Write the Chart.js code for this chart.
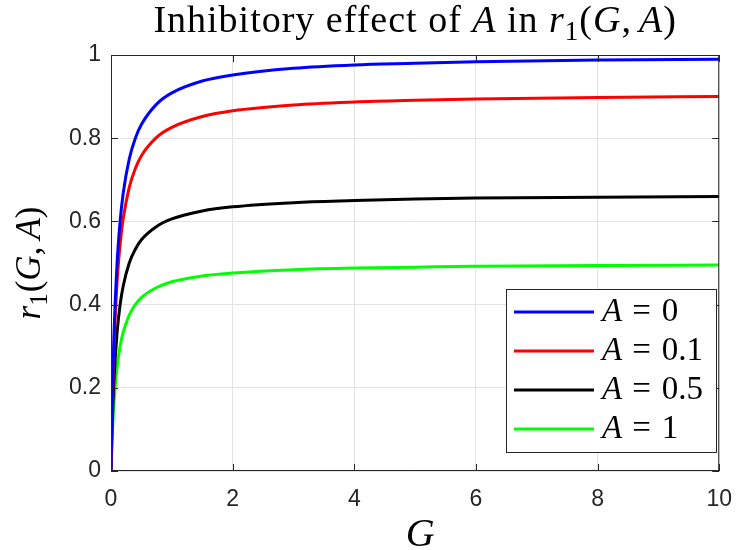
<!DOCTYPE html>
<html lang="en">
<head>
  <meta charset="UTF-8">
  <title>Inhibitory effect of A in r1(G, A)</title>
  <script src="https://cdn.jsdelivr.net/npm/chart.js"></script>
  <style>
    body {
      margin: 0;
      padding: 0;
      background: #fff;
    }

    .chart-wrapper {
      width: 747px;
      height: 550px;
    }
  </style>
</head>
<body>
  <div class="chart-wrapper"><canvas id="r1Chart" width="747" height="550"></canvas></div>

  <script>
    // Values
    const gValues = [0, 0.02, 0.05, 0.1, 0.15, 0.2, 0.3, 0.4, 0.5, 0.75, 1, 1.5, 2, 3, 4, 5, 6, 8, 10];
    const rA0   = [0, 0.167, 0.333, 0.5, 0.6, 0.667, 0.75, 0.8, 0.833, 0.882, 0.909, 0.9375, 0.952, 0.968, 0.976, 0.980, 0.984, 0.988, 0.990];
    const rA01  = [0, 0.152, 0.303, 0.455, 0.545, 0.606, 0.682, 0.727, 0.758, 0.802, 0.826, 0.852, 0.866, 0.880, 0.887, 0.891, 0.894, 0.898, 0.900];
    const rA05  = [0, 0.111, 0.222, 0.333, 0.4, 0.444, 0.5, 0.533, 0.556, 0.588, 0.606, 0.625, 0.635, 0.645, 0.650, 0.654, 0.656, 0.658, 0.660];
    const rA1   = [0, 0.083, 0.167, 0.25, 0.3, 0.333, 0.375, 0.4, 0.417, 0.441, 0.455, 0.469, 0.476, 0.484, 0.488, 0.490, 0.492, 0.494, 0.495];
    const aLabels = ["0", "0.1", "0.5", "1"];
    const seriesValues = [rA0, rA01, rA05, rA1];
    const colors = ["#0000ff", "#ff0000", "#000000", "#00ff00"];

    const xTicks = [0, 2, 4, 6, 8, 10];
    const yTicks = [0, 0.2, 0.4, 0.6, 0.8, 1];

    const SERIF = '"Liberation Serif", "Times New Roman", serif';
    const SANS = '"Liberation Sans", Arial, sans-serif';
    const AXIS_COLOR = "#262626";

    function fontOf(run, size) {
      const s = run.sub ? Math.round(size * 0.7) : size;
      return (run.i ? "italic " : "") + s + "px " + SERIF;
    }

    // draws a row of mixed upright / italic / subscript text; {gap: n} adds space
    function drawRuns(ctx, runs, x, y, size, align) {
      let total = 0;
      runs.forEach(r => {
        if (r.gap) { r.w = r.gap; } else {
          ctx.font = fontOf(r, size);
          r.w = ctx.measureText(r.t).width;
        }
        total += r.w;
      });
      let cx = align === "left" ? x : x - total / 2;
      ctx.textAlign = "left";
      ctx.textBaseline = "alphabetic";
      runs.forEach(r => {
        if (!r.gap) {
          ctx.font = fontOf(r, size);
          ctx.fillText(r.t, cx, y + (r.sub ? size * 0.2 : 0));
        }
        cx += r.w;
      });
    }

    const decorPlugin = {
      id: "decor",
      afterDraw(chart) {
        const ctx = chart.ctx;
        const area = chart.chartArea;
        const xs = chart.scales.x, ys = chart.scales.y;
        ctx.save();

        // box + inward ticks
        ctx.strokeStyle = AXIS_COLOR;
        ctx.lineWidth = 1;
        ctx.strokeRect(area.left + 0.5, area.top + 0.5, area.right - area.left - 1, area.bottom - area.top - 1);
        const tl = 7;
        ctx.beginPath();
        xTicks.forEach(v => {
          const px = Math.round(xs.getPixelForValue(v)) + 0.5;
          ctx.moveTo(px, area.bottom); ctx.lineTo(px, area.bottom - tl);
          ctx.moveTo(px, area.top); ctx.lineTo(px, area.top + tl);
        });
        yTicks.forEach(v => {
          const py = Math.round(ys.getPixelForValue(v)) + 0.5;
          ctx.moveTo(area.left, py); ctx.lineTo(area.left + tl, py);
          ctx.moveTo(area.right, py); ctx.lineTo(area.right - tl, py);
        });
        ctx.stroke();

        // title
        ctx.fillStyle = "#000";
        const cx = (area.left + area.right) / 2;
        ctx.letterSpacing = "1px";
        drawRuns(ctx, [
          { t: "Inhibitory effect of " }, { t: "A", i: true }, { t: " in " },
          { t: "r", i: true }, { t: "1", sub: true }, { t: "(" }, { t: "G", i: true },
          { t: "," }, { gap: 7 }, { t: "A", i: true }, { t: ")" }
        ], cx, 32, 38);
        ctx.letterSpacing = "0px";

        // x label
        drawRuns(ctx, [{ t: "G", i: true }], cx + 5, 546, 40);

        // y label
        ctx.save();
        ctx.translate(40, (area.top + area.bottom) / 2);
        ctx.rotate(-Math.PI / 2);
        drawRuns(ctx, [
          { t: "r", i: true }, { t: "1", sub: true }, { gap: 1 }, { t: "(" }, { t: "G", i: true },
          { t: "," }, { gap: 7 }, { t: "A", i: true }, { t: ")" }
        ], 0, 0, 35);
        ctx.restore();

        // legend
        const lx = 506, ly = 289, lw = 210, lh = 163;
        ctx.fillStyle = "#fff";
        ctx.fillRect(lx, ly, lw, lh);
        ctx.lineWidth = 1;
        ctx.strokeStyle = AXIS_COLOR;
        ctx.strokeRect(lx + 0.5, ly + 0.5, lw, lh);
        chart.data.datasets.forEach((ds, k) => {
          const y = 312 + k * 39;
          ctx.strokeStyle = ds.borderColor;
          ctx.lineWidth = 3;
          ctx.beginPath();
          ctx.moveTo(514, y); ctx.lineTo(594, y);
          ctx.stroke();
          ctx.fillStyle = "#000";
          drawRuns(ctx, [
            { t: "A", i: true }, { gap: 10 }, { t: "=" }, { gap: 11 }, { t: aLabels[k] }
          ], 602, y + 9, 33, "left");
        });

        ctx.restore();
      }
    };

    const ctx = document.getElementById("r1Chart").getContext("2d");
    new Chart(ctx, {
      type: "line",
      data: {
        datasets: seriesValues.map((vals, k) => ({
          label: "A = " + aLabels[k],
          data: gValues.map((g, i) => ({ x: g, y: vals[i] })),
          borderColor: colors[k],
          borderWidth: 3,
          pointRadius: 0,
          cubicInterpolationMode: "monotone",
          fill: false
        }))
      },
      options: {
        responsive: false,
        animation: false,
        layout: { padding: { top: 55, right: 15, left: 0, bottom: 0 } },
        scales: {
          x: {
            type: "linear",
            min: 0,
            max: 10,
            afterFit: s => { s.height = 79; },
            afterBuildTicks: s => { s.ticks = xTicks.map(v => ({ value: v })); },
            grid: { color: "#e3e3e3", drawTicks: false },
            border: { display: false },
            ticks: {
              padding: 15,
              color: AXIS_COLOR,
              callback: v => String(v),
              font: { family: SANS, size: 23 }
            }
          },
          y: {
            min: 0,
            max: 1,
            afterFit: s => { s.width = 111; },
            afterBuildTicks: s => { s.ticks = yTicks.map(v => ({ value: v })); },
            grid: { color: "#e3e3e3", drawTicks: false },
            border: { display: false },
            ticks: {
              padding: 10,
              color: AXIS_COLOR,
              callback: v => String(v),
              font: { family: SANS, size: 23 }
            }
          }
        },
        plugins: {
          legend: { display: false },
          title: { display: false },
          tooltip: { enabled: false }
        }
      },
      plugins: [decorPlugin]
    });
  </script>
</body>
</html>
